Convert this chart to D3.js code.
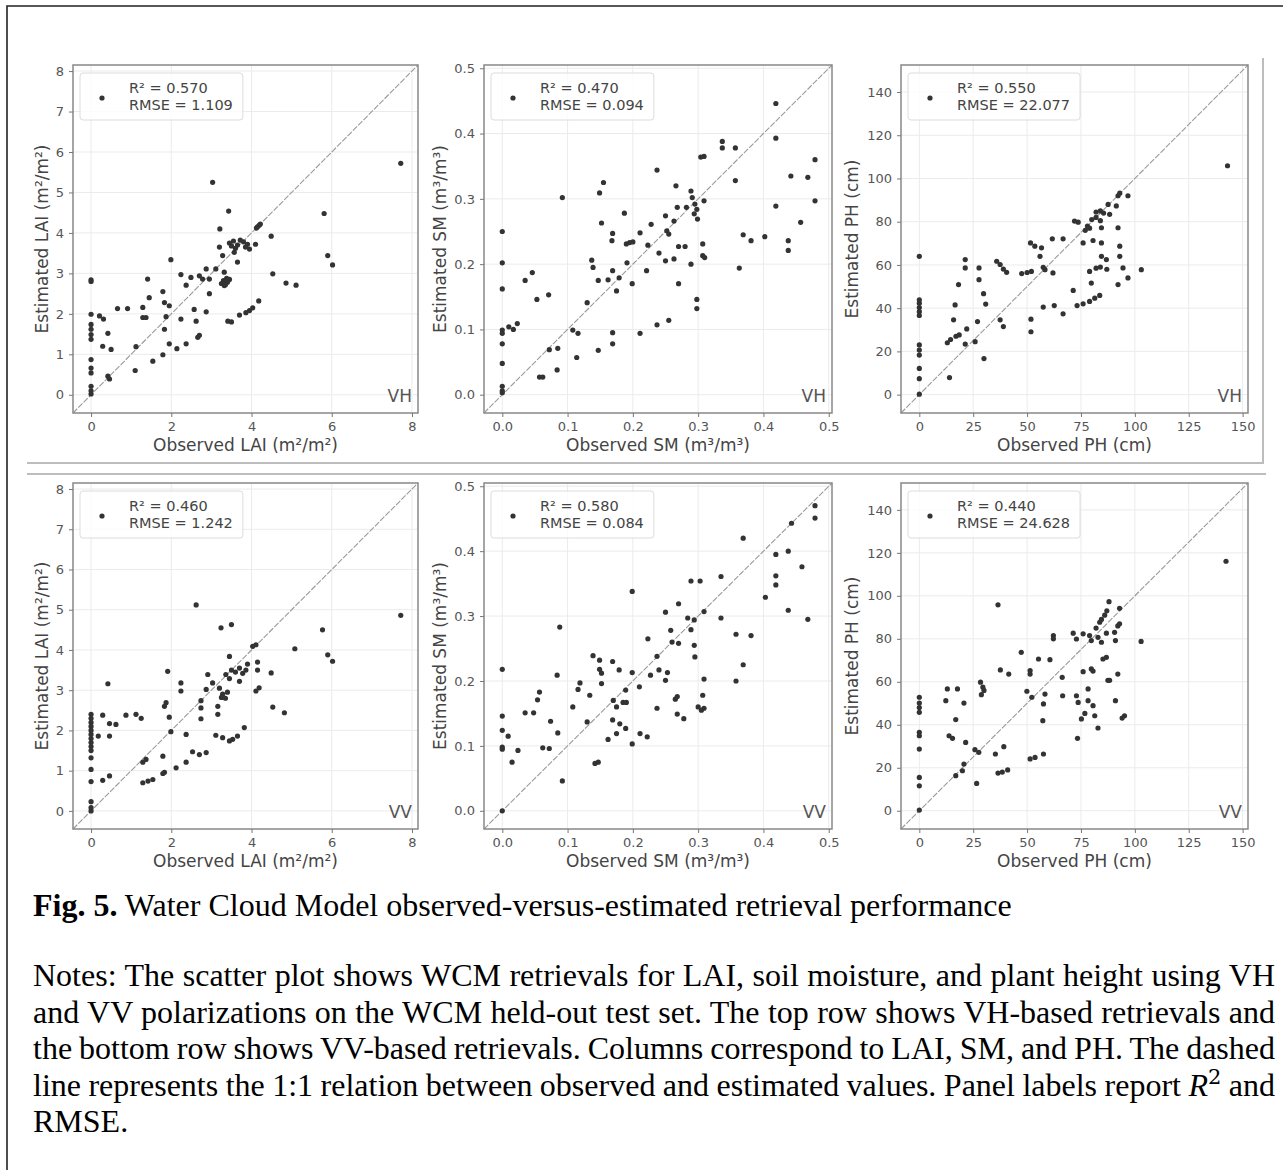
<!DOCTYPE html>
<html>
<head>
<meta charset="utf-8">
<script src="https://cdn.jsdelivr.net/npm/d3@7"></script>
<style>
  body { margin: 0; background: #fff; }
  svg { display: block; }
  .panel text { font-family: "DejaVu Sans", sans-serif; }
  .caption { font-family: "Liberation Serif", "Times New Roman", serif; font-size: 32px; fill: #000; }
</style>
</head>
<body>
<svg id="fig" width="1283" height="1170"></svg>
<script>
/* global d3 */

// observed / estimated pairs
const laiVH = [[7.72,5.72],[3.03,5.25],[3.43,4.54],[5.81,4.48],[3.21,4.10],[4.19,4.19],[4.15,4.15],[4.22,4.22],[4.12,4.12],[4.49,3.92],[5.9,3.44],[6.02,3.21],
  [3.45,3.75],[3.55,3.8],[3.65,3.7],[3.72,3.82],[3.8,3.78],[3.85,3.65],[3.9,3.72],[3.6,3.62],[3.95,3.6],[4.1,3.72],[3.5,3.68],
  [3.2,3.65],[3.57,3.52],[3.65,3.28],[1.99,3.34],[3.28,3.44],[2.87,3.11],[3.11,3.11],[3.32,3.03],[2.24,2.97],[2.49,2.9],[2.7,2.94],[2.78,2.86],[2.95,2.86],
  [3.3,2.82],[3.35,2.72],[3.4,2.78],[3.45,2.85],[3.32,2.7],[3.38,2.88],[3.25,2.75],
  [1.41,2.86],[2.37,2.71],[4.53,2.99],[4.86,2.76],[5.11,2.71],[0,2.8],[0,2.84],[1.79,2.55],[1.45,2.4],[2.95,2.5],[1.83,2.28],[1.95,2.2],[0.66,2.13],[0.91,2.13],
  [1.29,2.16],[2.57,2.11],[2.87,2.05],[1.87,1.93],[1.29,1.91],[1.37,1.91],[2.24,1.87],[2.62,1.82],[0,1.99],[0.21,1.95],[0.31,1.87],[3.41,1.82],[3.5,1.8],
  [3.7,1.97],[3.86,2.03],[3.95,2.08],[4.03,2.15],[4.18,2.32],[0,1.74],[0,1.62],[0,1.49],[0,1.37],[0.42,1.52],[1.83,1.62],[2.7,1.47],[2.66,1.42],[0.29,1.2],
  [0.5,1.12],[1.12,1.19],[1.95,1.26],[2.14,1.14],[2.37,1.26],[1.79,0.99],[1.54,0.83],[0,0.87],[0,0.66],[0,0.54],[1.1,0.6],[0.42,0.46],[0.46,0.39],[0,0.21],
  [0,0.02],[0,0.1]];

const smVH = [[0.419,0.446],[0.419,0.393],[0.337,0.388],[0.337,0.378],[0.357,0.378],[0.304,0.364],[0.309,0.365],[0.479,0.36],[0.237,0.344],[0.357,0.328],
  [0.442,0.335],[0.468,0.333],[0.155,0.325],[0.149,0.309],[0.266,0.32],[0.289,0.312],[0.291,0.302],[0.295,0.292],[0.298,0.284],[0.294,0.277],[0.299,0.269],
  [0.309,0.297],[0.479,0.297],[0.419,0.289],[0.092,0.302],[0.282,0.287],[0.268,0.287],[0.187,0.278],[0.152,0.263],[0.228,0.261],[0.25,0.274],[0.263,0.266],
  [0.457,0.264],[0,0.25],[0.211,0.248],[0.252,0.251],[0.255,0.246],[0.169,0.247],[0.168,0.236],[0.369,0.245],[0.381,0.236],[0.402,0.242],[0.438,0.236],
  [0.438,0.221],[0.19,0.231],[0.195,0.233],[0.2,0.234],[0.223,0.229],[0.27,0.227],[0.28,0.227],[0.307,0.231],[0.24,0.217],[0.307,0.213],[0.31,0.21],
  [0.263,0.208],[0.25,0.205],[0,0.202],[0.137,0.206],[0.139,0.195],[0.191,0.202],[0.289,0.2],[0.169,0.19],[0.221,0.19],[0.046,0.187],[0.363,0.194],
  [0.035,0.175],[0.147,0.175],[0.162,0.176],[0.179,0.179],[0.199,0.17],[0.27,0.17],[0.175,0.159],[0,0.162],[0.053,0.146],[0.071,0.153],[0.13,0.141],
  [0.298,0.146],[0.298,0.132],[0,0.099],[0,0.094],[0.01,0.104],[0.017,0.1],[0.023,0.109],[0.108,0.099],[0.116,0.094],[0.169,0.095],[0.169,0.078],
  [0.211,0.094],[0.237,0.107],[0.255,0.114],[0,0.078],[0.072,0.069],[0.085,0.071],[0.147,0.068],[0.114,0.057],[0,0.048],[0.057,0.027],[0.062,0.027],
  [0.084,0.038],[0,0.013],[0,0.006],[0,0.003]];

const phVH = [[143,105.9],[93,93.2],[92.2,92],[96.8,92],[87.6,88],[91.4,87.3],[82,84.5],[84,85],[85.5,84],[88.3,83.4],[72,80.3],[73.7,79.8],[80,81],[82,82],
  [84,80.5],[77,76],[78,78],[79,77],[84.5,77.2],[92.2,77.2],[76,70.2],[80.6,71.3],[84.5,70.2],[93,68.7],[61.7,72.1],[66.7,72.1],[51.6,70.2],[53.6,68.7],
  [56.7,67.9],[56,64],[84.5,64],[86.8,62.5],[93,64],[0,64],[35.9,61.7],[37.5,60.2],[39,58.1],[40.5,56.6],[21.3,62.5],[21.3,58.6],[27.7,58.6],[27.7,53.2],
  [47.5,56],[50,56.5],[52,57],[57.5,58.9],[58.3,57.8],[62,56.3],[82,58.5],[84,59],[87,58],[94.5,58.6],[103,57.8],[79,57],[96.8,54],[18.2,50.9],[29.8,46.7],
  [30.8,41.9],[92.2,50.9],[79.8,51.6],[71.4,48.2],[0,43.9],[0,42.3],[0,40.3],[0,38.4],[0,36.6],[16.6,41.5],[57.5,40.5],[62.6,41.2],[73.2,41.2],[76,42],
  [79,43.1],[81.4,44.6],[83.7,45.9],[66.7,37.4],[15.9,34.6],[27,33.8],[37.5,34.6],[39,31.5],[51.8,34.9],[51.8,29.1],[13,24],[14.5,25.5],[17,27],[22,30.4],
  [18.5,27.6],[25.9,24.5],[21.3,23.4],[0,23],[0,20.6],[0,18.3],[30,16.7],[0,12.1],[0,7.4],[14,7.9],[0,0.2]];

const laiVV = [[7.72,4.86],[5.77,4.5],[2.62,5.12],[3.24,4.55],[3.5,4.63],[5.08,4.03],[4.03,4.09],[4.11,4.13],[5.9,3.88],[6.02,3.72],[3.45,3.84],[1.91,3.47],
  [3.9,3.65],[4.15,3.7],[4.15,3.5],[3.5,3.5],[3.6,3.45],[3.7,3.55],[3.78,3.42],[3.86,3.5],[3.36,3.39],[3.45,3.29],[4.49,3.43],[2.91,3.39],[3.7,3.22],
  [0.42,3.16],[2.24,3.18],[2.24,2.98],[3.03,3.18],[3.2,3.05],[3.28,2.9],[3.35,2.8],[3.4,2.95],[3.25,2.82],[2.87,3.02],[4.19,3.06],[4.11,2.98],[2.74,2.74],
  [2.74,2.56],[1.87,2.69],[1.83,2.6],[3.16,2.6],[3.16,2.4],[4.53,2.58],[4.82,2.44],[1.95,2.33],[0.87,2.38],[1.12,2.4],[1.25,2.3],[2.74,2.29],[0.29,2.38],
  [0.46,2.17],[0.62,2.15],[0,2.4],[0,2.3],[0,2.2],[0,2.1],[0,2.0],[0,1.9],[0,1.8],[0,1.7],[0,1.6],[0,1.5],[1.99,1.97],[0.18,1.86],[0.46,1.86],[2.37,1.9],
  [3.82,2.07],[3.11,1.88],[3.28,1.82],[3.45,1.74],[3.53,1.78],[3.65,1.86],[2.53,1.47],[2.7,1.4],[2.87,1.45],[1.37,1.28],[1.29,1.21],[1.79,1.36],[0,1.32],
  [0,1.03],[2.12,1.07],[2.37,1.21],[1.79,0.93],[1.83,0.96],[1.29,0.7],[1.42,0.74],[1.54,0.78],[0.29,0.76],[0.46,0.87],[0,0.73],[0,0.23],[0,0.08],[0,0]];

const smVV = [[0.479,0.47],[0.479,0.451],[0.443,0.443],[0.369,0.42],[0.419,0.395],[0.419,0.362],[0.419,0.348],[0.438,0.4],[0.459,0.376],[0.403,0.329],
  [0.438,0.309],[0.468,0.295],[0.289,0.354],[0.303,0.354],[0.335,0.361],[0.199,0.338],[0.27,0.319],[0.25,0.306],[0.309,0.307],[0.335,0.297],[0.284,0.297],
  [0.294,0.294],[0.289,0.279],[0.258,0.278],[0.26,0.26],[0.27,0.258],[0.088,0.283],[0.358,0.272],[0.381,0.27],[0.223,0.265],[0.294,0.255],[0.237,0.238],
  [0.295,0.237],[0.139,0.239],[0.149,0.232],[0.149,0.218],[0.152,0.212],[0.169,0.23],[0.179,0.217],[0.199,0.213],[0.24,0.217],[0.253,0.213],[0,0.218],
  [0.369,0.225],[0.227,0.209],[0.25,0.201],[0.309,0.203],[0.358,0.2],[0.084,0.209],[0.119,0.197],[0.116,0.187],[0.152,0.196],[0.21,0.191],[0.189,0.186],
  [0.057,0.183],[0.054,0.171],[0.134,0.178],[0.17,0.17],[0.175,0.16],[0.185,0.167],[0.19,0.167],[0.268,0.176],[0.265,0.172],[0.307,0.178],[0.108,0.16],
  [0.3,0.16],[0.305,0.155],[0.309,0.158],[0.237,0.158],[0.035,0.151],[0.048,0.151],[0,0.146],[0.268,0.149],[0.278,0.142],[0.169,0.14],[0.18,0.134],
  [0.074,0.138],[0.13,0.137],[0.189,0.127],[0,0.124],[0.009,0.115],[0.211,0.119],[0.222,0.114],[0.175,0.119],[0.162,0.11],[0.085,0.12],[0.199,0.103],
  [0,0.098],[0,0.095],[0.062,0.097],[0.072,0.096],[0.024,0.093],[0.015,0.075],[0.142,0.073],[0.147,0.075],[0.092,0.046],[0,0]];

const phVV = [[142.3,116.1],[36.5,95.8],[88,97.3],[92.9,94.2],[84.5,89],[86,91],[87,93],[82,85],[83.7,87.7],[92.1,86],[92.9,87],[62.2,81.5],[62.2,80],
  [71.4,82.6],[72.9,79.9],[76,82.3],[79,81.5],[79.8,79.2],[82.9,80.7],[84.5,78.4],[86.8,82.6],[90.6,83],[91,79.2],[102.9,78.8],[47.3,73.7],[55.3,70.6],
  [60.6,70.3],[86.8,71.4],[85.2,70.6],[51.4,65.2],[51.4,63.6],[37.6,65.5],[41.5,63.6],[76,64.7],[79.8,66],[80.6,65],[92.1,63.6],[66.3,62.1],[87.5,60.7],
  [88.3,60.7],[28.4,59.8],[29.5,57.5],[30,56],[28.8,54],[13,56.7],[17.7,56.7],[12.3,51.2],[20.7,50.1],[49.9,55.6],[52.2,52.8],[58.3,54.3],[57.6,49.7],
  [66.5,53.5],[72.9,53.5],[73.7,50.4],[78.3,56.7],[78.3,51.2],[91,51.2],[0,52.8],[0,50.1],[0,48],[0,45.8],[80.6,48.9],[81.4,44.2],[76.8,45.3],[75.2,42.7],
  [95.2,44.2],[94.1,43.1],[57.3,41.9],[16.9,42.4],[82.9,38.5],[73.4,33.7],[0,36.5],[0,34.9],[13.8,34.9],[15.4,33.7],[21.5,31.8],[0,28.7],[25.8,28.4],
  [27.6,27.2],[35.3,26.4],[39.2,29.8],[57.6,26.4],[51.4,24.1],[53.7,24.8],[20.7,21.7],[20,18.6],[16.9,16.3],[36.5,17.5],[38.5,18],[41,19],[0,15.5],
  [0,11.6],[26.6,12.7],[0,0.3]];

const r2Labels = ['0.570', '0.470', '0.550', '0.460', '0.580', '0.440'];
const rmseLabels = ['1.109', '0.094', '22.077', '1.242', '0.084', '24.628'];
const polLabels = ['VH', 'VV'];

const laiTicksX = [0, 2, 4, 6, 8];
const laiTicksY = [0, 1, 2, 3, 4, 5, 6, 7, 8];
const smTicks = [0, 0.1, 0.2, 0.3, 0.4, 0.5];
const phTicksX = [0, 25, 50, 75, 100, 125, 150];
const phTicksY = [0, 20, 40, 60, 80, 100, 120, 140];

const variables = [
  {name: 'LAI', unit: '(m²/m²)', domain: [-0.45, 8.15], xTicks: laiTicksX, yTicks: laiTicksY, fmt: d3.format('d'), ylabOff: 31},
  {name: 'SM', unit: '(m³/m³)', domain: [-0.028, 0.505], xTicks: smTicks, yTicks: smTicks, fmt: d3.format('.1f'), ylabOff: 44},
  {name: 'PH', unit: '(cm)', domain: [-8.5, 152.5], xTicks: phTicksX, yTicks: phTicksY, fmt: d3.format('d'), ylabOff: 49}
];
const series = [laiVH, smVH, phVH, laiVV, smVV, phVV];

const colX = [[73, 418], [484, 832], [901, 1248]],
  rowY = [[65, 413], [483, 829]];

const svg = d3.select('#fig');

// page frame and scan edges of the two figure images
svg.append('path').attr('d', 'M7,1170V6H1283').attr('fill', 'none').attr('stroke', '#222').attr('stroke-width', 1.6);
svg.append('path').attr('d', 'M27,463H1263V58').attr('fill', 'none').attr('stroke', '#bdbdbd').attr('stroke-width', 2);
svg.append('path').attr('d', 'M27,474H1266').attr('fill', 'none').attr('stroke', '#bdbdbd').attr('stroke-width', 2);

series.forEach((data, i) => {
  const col = i % 3, row = Math.floor(i / 3), v = variables[col];
  const [x0, x1] = colX[col], [y0, y1] = rowY[row];
  const x = d3.scaleLinear().domain(v.domain).range([x0, x1]);
  const y = d3.scaleLinear().domain(v.domain).range([y1, y0]);
  const g = svg.append('g').attr('class', 'panel');

  // grid
  g.append('g').selectAll('line').data(v.xTicks).join('line').
    attr('x1', d => x(d)).attr('x2', d => x(d)).attr('y1', y0).attr('y2', y1).
    attr('stroke', '#ebebeb').attr('stroke-width', 1);
  g.append('g').selectAll('line').data(v.yTicks).join('line').
    attr('y1', d => y(d)).attr('y2', d => y(d)).attr('x1', x0).attr('x2', x1).
    attr('stroke', '#ebebeb').attr('stroke-width', 1);

  // 1:1 line
  g.append('line').
    attr('x1', x(v.domain[0])).attr('y1', y(v.domain[0])).
    attr('x2', x(v.domain[1])).attr('y2', y(v.domain[1])).
    attr('stroke', '#9a9a9a').attr('stroke-width', 1.1).attr('stroke-dasharray', '6,1.5');

  // points
  g.append('g').selectAll('circle').data(data).join('circle').
    attr('cx', d => x(d[0])).attr('cy', d => y(d[1])).attr('r', 2.6).attr('fill', '#333');

  // frame
  g.append('rect').attr('x', x0).attr('y', y0).attr('width', x1 - x0).attr('height', y1 - y0).
    attr('fill', 'none').attr('stroke', '#888').attr('stroke-width', 1.5);

  // axes
  const xAxis = d3.axisBottom(x).tickValues(v.xTicks).tickSize(4).tickPadding(5).tickFormat(v.fmt);
  const yAxis = d3.axisLeft(y).tickValues(v.yTicks).tickSize(4).tickPadding(5).tickFormat(v.fmt);
  [g.append('g').attr('transform', `translate(0,${y1})`).call(xAxis),
    g.append('g').attr('transform', `translate(${x0},0)`).call(yAxis)].forEach(a => {
    a.select('.domain').remove();
    a.selectAll('.tick line').attr('stroke', '#777');
    a.selectAll('.tick text').attr('fill', '#555').style('font-size', '13px');
  });

  // axis labels
  g.append('text').attr('x', (x0 + x1) / 2).attr('y', y1 + 38).attr('text-anchor', 'middle').
    attr('fill', '#444').style('font-size', '17px').text(`Observed ${v.name} ${v.unit}`);
  g.append('text').attr('transform', `translate(${x0 - v.ylabOff},${(y0 + y1) / 2}) rotate(-90)`).
    attr('text-anchor', 'middle').attr('dy', '0.35em').
    attr('fill', '#444').style('font-size', '17px').text(`Estimated ${v.name} ${v.unit}`);

  // polarization tag
  g.append('text').attr('x', x1 - 6).attr('y', y1 - 11).attr('text-anchor', 'end').
    attr('fill', '#555').style('font-size', '17px').text(polLabels[row]);

  // legend
  const bx = x0 + 7, by = y0 + 8;
  const box = g.append('rect').attr('x', bx).attr('y', by).attr('height', 47).attr('rx', 3).
    attr('fill', '#fff').attr('fill-opacity', 0.8).attr('stroke', '#dcdcdc');
  g.append('circle').attr('cx', bx + 22).attr('cy', by + 25).attr('r', 2.6).attr('fill', '#333');
  const lines = [`R² = ${r2Labels[i]}`, `RMSE = ${rmseLabels[i]}`];
  let maxLen = 0;
  lines.forEach((t, k) => {
    const node = g.append('text').attr('x', bx + 49).attr('y', by + 20 + k * 17).
      attr('fill', '#444').style('font-size', '14.5px').text(t).node();
    maxLen = Math.max(maxLen, node.getComputedTextLength());
  });
  box.attr('width', 49 + maxLen + 10);
});

// caption
const captionTitle = 'Fig. 5.';
const captionText = ' Water Cloud Model observed-versus-estimated retrieval performance';
const notesLines = [
  [{t: 'Notes: The scatter plot shows WCM retrievals for LAI, soil moisture, and plant height using VH'}],
  [{t: 'and VV polarizations on the WCM held-out test set. The top row shows VH-based retrievals and'}],
  [{t: 'the bottom row shows VV-based retrievals. Columns correspond to LAI, SM, and PH. The dashed'}],
  [{t: 'line represents the 1:1 relation between observed and estimated values. Panel labels report '},
    {t: 'R', italic: true}, {t: '2', sup: true}, {t: ' and', after: true}],
  [{t: 'RMSE.'}]
];
const capLeft = 33, capWidth = 1242;

const title = svg.append('text').attr('class', 'caption').attr('x', capLeft).attr('y', 916);
title.append('tspan').attr('font-weight', 'bold').text(captionTitle);
title.append('tspan').text(captionText);

notesLines.forEach((segs, k) => {
  const t = svg.append('text').attr('class', 'caption').attr('x', capLeft).attr('y', 986 + k * 36.5).
    attr('xml:space', 'preserve');
  segs.forEach(s => {
    const ts = t.append('tspan').text(s.t);
    if (s.italic) ts.attr('font-style', 'italic');
    if (s.sup) ts.attr('dy', -12).style('font-size', '21px').attr('font-family', '"DejaVu Serif", serif');
    if (s.after) ts.attr('dy', 12);
  });
  if (k < notesLines.length - 1) {
    const full = segs.map(s => s.t).join('');
    const spaces = (full.match(/ /g) || []).length;
    const len = t.node().getComputedTextLength();
    t.style('word-spacing', ((capWidth - len) / spaces) + 'px');
  }
});
</script>
</body>
</html>
